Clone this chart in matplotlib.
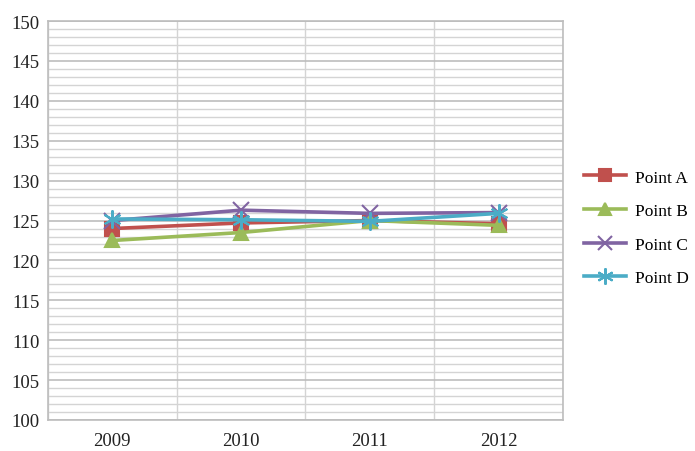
import matplotlib.pyplot as plt
import numpy as np

years = ["2009", "2010", "2011", "2012"]
point_a = [124.0, 124.7, 125.0, 124.6]
point_b = [122.5, 123.5, 125.0, 124.4]
point_c = [125.0, 126.3, 125.9, 126.0]
point_d = [125.2, 125.1, 124.9, 125.9]

plt.rcParams['font.family'] = ['Liberation Serif', 'DejaVu Serif']

fig = plt.figure(figsize=(6.95, 4.52), dpi=100)
ax = fig.add_axes([0.069, 0.0686, 0.741, 0.8825])

x = np.arange(len(years))
styles = [
    ("Point A", point_a, "#C0504D", "s", 10),
    ("Point B", point_b, "#9BBB59", "^", 10),
    ("Point C", point_c, "#8064A2", "x", 11),
    ("Point D", point_d, "#4BACC6", (6, 2, 0), 13),
]
for name, vals, col, mk, ms in styles:
    ax.plot(x, vals, color=col, lw=2.6, marker=mk, ms=ms, mew=1.5,
            mec=col, mfc=col, label=name)

ax.set_xlim(-0.5, 3.5)
ax.set_ylim(100, 150)
ax.set_yticks(np.arange(100, 151, 5))
ax.set_yticks(np.arange(100, 151, 1), minor=True)
ax.set_xticks(x)
ax.set_xticklabels(years)
ax.set_xticks(np.arange(-0.5, 3.6, 0.5), minor=True)
ax.tick_params(axis='both', which='both', length=0, labelsize=13.5, colors='#222222')
ax.tick_params(axis='x', pad=9)
ax.tick_params(axis='y', pad=6)

ax.grid(True, which='major', axis='y', color='#bdbdbd', lw=1.2)
ax.grid(True, which='minor', color='#d4d4d4', lw=1.0)
ax.set_axisbelow(True)
for s in ax.spines.values():
    s.set_color('#bdbdbd')
    s.set_linewidth(1.2)

fig.legend(loc='upper left', bbox_to_anchor=(0.841, 0.623), frameon=False,
           fontsize=12.5, handlelength=2.4, labelspacing=1.0, handletextpad=0.5,
           markerscale=0.9, borderaxespad=0, borderpad=0)

fig.savefig("out.png", dpi=100)
